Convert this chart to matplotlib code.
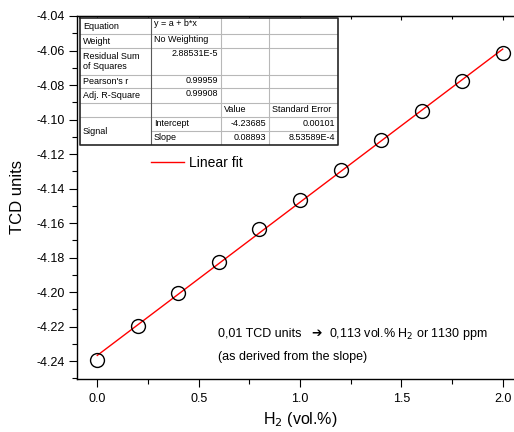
import numpy as np
import matplotlib.pyplot as plt
from matplotlib.ticker import MultipleLocator, FormatStrFormatter

plt.rcParams['font.family'] = ['Liberation Sans', 'DejaVu Sans']

# data
h2 = [0.0, 0.2, 0.4, 0.6, 0.8, 1.0, 1.2, 1.4, 1.6, 1.8, 2.0]
tcd = [-4.2394, -4.2198, -4.2007, -4.1828, -4.1637, -4.1464,
       -4.1290, -4.1117, -4.0949, -4.0776, -4.0614]

# fit result table (as printed by Origin)
tab_labels = ['Equation', 'Weight', 'Residual Sum\nof Squares', "Pearson's r", 'Adj. R-Square', '', 'Signal']
tab_values = ['y = a + b*x', 'No Weighting', '2.88531E-5', '0.99959', '0.99908']
par_names = ['Intercept', 'Slope']
par_values = ['-4.23685', '0.08893']
par_errors = ['0.00101', '8.53589E-4']

W, H = 514, 432
fig = plt.figure(figsize=(W / 100, H / 100), dpi=100)
ax = fig.add_axes([77 / W, (H - 379) / H, 446 / W, 363 / H])

b, a = np.polyfit(h2, tcd, 1)
xf = np.array([min(h2), max(h2)])
ax.plot(xf, a + b * xf, color='red', lw=1, label='Linear fit', zorder=2)
ax.plot(h2, tcd, 'o', ms=10, mfc='none', mec='black', mew=1, zorder=3)

ax.set_xlim(-0.1, 2.1)
ax.set_ylim(-4.2504, -4.04)
ax.xaxis.set_major_locator(MultipleLocator(0.5))
ax.xaxis.set_minor_locator(MultipleLocator(0.25))
ax.yaxis.set_major_locator(MultipleLocator(0.02))
ax.yaxis.set_minor_locator(MultipleLocator(0.01))
ax.xaxis.set_major_formatter(FormatStrFormatter('%.1f'))
ax.yaxis.set_major_formatter(FormatStrFormatter('%.2f'))
ax.tick_params(which='both', direction='out', labelsize=9, width=0.8)
ax.tick_params(which='major', length=6, pad=3)
ax.tick_params(axis='x', which='major', pad=4)
ax.tick_params(which='minor', length=3.5)
for s in ax.spines.values():
    s.set_linewidth(1)

top = ax.secondary_xaxis('top')
top.xaxis.set_major_locator(MultipleLocator(0.5))
top.xaxis.set_minor_locator(MultipleLocator(0.25))
top.tick_params(which='both', direction='in', labeltop=False, width=0.8)
top.tick_params(which='major', length=3)
top.tick_params(which='minor', length=2)

ax.set_ylabel('TCD units', fontsize=12, labelpad=8)
ax.set_xlabel('H$_2$ (vol.%)', fontsize=11.5, labelpad=4)

ax.legend(loc='upper left', bbox_to_anchor=((145 - 77) / 446, (379 - 150) / 363),
          frameon=False, fontsize=10, handlelength=2.4, handletextpad=0.4, borderaxespad=0)

fig.text(218 / W, (H - 334) / H, '0,01 TCD units', fontsize=9, va='center')
fig.text(311 / W, (H - 334) / H, '\u2794', fontsize=9, va='center', family=['DejaVu Sans'])
fig.text(329 / W, (H - 334) / H, '0,113 vol.% H$_2$ or 1130 ppm', fontsize=9, va='center')
fig.text(218 / W, (H - 357) / H, '(as derived from the slope)', fontsize=9, va='center')

# table drawn by hand so the Signal cell can span two rows
cols = [80, 151, 221, 269, 338]
rows = [18, 34, 48, 75, 88, 103, 117, 131, 145]
tx = fig.add_axes([cols[0] / W, (H - rows[-1]) / H, (cols[-1] - cols[0]) / W, (rows[-1] - rows[0]) / H])
tx.set_xlim(cols[0], cols[-1])
tx.set_ylim(rows[-1], rows[0])
tx.axis('off')
tx.add_patch(plt.Rectangle((cols[0], rows[0]), cols[-1] - cols[0], rows[-1] - rows[0],
                           facecolor='white', edgecolor='none', zorder=0))
g = '0.72'
for r in rows[1:-1]:
    x0 = cols[1] if r == rows[7] else cols[0]
    tx.plot([x0, cols[-1]], [r, r], color=g, lw=0.8)
for c in cols[2:-1]:
    tx.plot([c, c], [rows[0], rows[-1]], color=g, lw=0.8)
tx.plot([cols[1], cols[1]], [rows[0], rows[-1]], color='0.35', lw=0.8)
tx.plot([cols[0], cols[-1], cols[-1], cols[0], cols[0]],
        [rows[0], rows[0], rows[-1], rows[-1], rows[0]], color='0.15', lw=1.2, clip_on=False)

fs = 6.5
for i, lab in enumerate(tab_labels):
    if lab == 'Signal':
        yc = (rows[6] + rows[8]) / 2
    else:
        yc = (rows[i] + rows[i + 1]) / 2
    tx.text(cols[0] + 3, yc, lab, fontsize=fs, va='center', linespacing=1.15)
for i, v in enumerate(tab_values):
    if i < 2:
        tx.text(cols[1] + 3, rows[i] + 1, v, fontsize=fs, va='top')
    else:
        tx.text(cols[2] - 3, rows[i] + 1, v, fontsize=fs, va='top', ha='right')
tx.text(cols[2] + 3, (rows[5] + rows[6]) / 2, 'Value', fontsize=fs, va='center')
tx.text(cols[3] + 3, (rows[5] + rows[6]) / 2, 'Standard Error', fontsize=fs, va='center')
for j in range(2):
    yc = (rows[6 + j] + rows[7 + j]) / 2
    tx.text(cols[1] + 3, yc, par_names[j], fontsize=fs, va='center')
    tx.text(cols[3] - 3, yc, par_values[j], fontsize=fs, va='center', ha='right')
    tx.text(cols[4] - 3, yc, par_errors[j], fontsize=fs, va='center', ha='right')

fig.savefig('out.png', dpi=100)
